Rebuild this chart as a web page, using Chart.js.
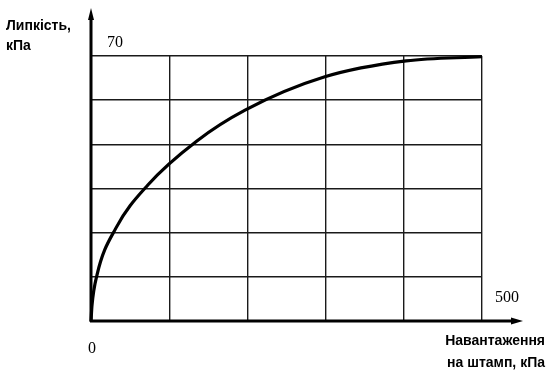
<!DOCTYPE html>
<html>
<head>
<meta charset="utf-8">
<script src="https://cdn.jsdelivr.net/npm/chart.js@4.4.1/dist/chart.umd.min.js"></script>
<style>
  html, body { margin: 0; padding: 0; background: #fff; }
  #wrap { width: 549px; height: 381px; }
</style>
</head>
<body>
<div id="wrap"><canvas id="chart" width="549" height="381"></canvas></div>
<script>
// load on the plate (kPa) and stickiness (kPa)
const loadKPa    = [0, 1.3, 7.7, 32, 73, 135, 197, 299, 403, 500];
const stickiness = [0, 4.2, 12.2, 24.6, 36.0, 47.5, 55.7, 64.5, 68.7, 69.8];

const xMax = 500;
const yMax = 70;
const xStep = 100;
const yStep = 70 / 6;

const yTitle = ['Липкість,', 'кПа'];
const xTitle = ['Навантаження', 'на штамп, кПа'];

// axes with arrows and the loose labels around the plot
const decorPlugin = {
    id: 'decor',
    afterDraw(chart) {
        const ctx = chart.ctx;
        const x = chart.scales.x, y = chart.scales.y;
        const x0 = x.getPixelForValue(0), y0 = y.getPixelForValue(0);
        const xEnd = x.getPixelForValue(xMax), yTop = y.getPixelForValue(yMax);

        ctx.save();
        ctx.strokeStyle = '#000';
        ctx.fillStyle = '#000';
        ctx.lineWidth = 3;
        ctx.lineCap = 'butt';

        // y axis
        ctx.beginPath();
        ctx.moveTo(x0, y0 + 1);
        ctx.lineTo(x0, yTop - 40);
        ctx.stroke();
        ctx.beginPath();
        ctx.moveTo(x0, yTop - 48);
        ctx.lineTo(x0 - 3, yTop - 36);
        ctx.lineTo(x0 + 3, yTop - 36);
        ctx.closePath();
        ctx.fill();

        // x axis
        ctx.beginPath();
        ctx.moveTo(x0 - 1, y0);
        ctx.lineTo(xEnd + 32, y0);
        ctx.stroke();
        ctx.beginPath();
        ctx.moveTo(xEnd + 41, y0);
        ctx.lineTo(xEnd + 29, y0 - 3.5);
        ctx.lineTo(xEnd + 29, y0 + 3.5);
        ctx.closePath();
        ctx.fill();

        // value labels
        ctx.font = '16px "Liberation Serif", "Times New Roman", serif';
        ctx.textBaseline = 'middle';
        ctx.textAlign = 'left';
        ctx.fillText(String(yMax), x0 + 16, yTop - 13);
        ctx.fillText(String(xMax), xEnd + 13, y0 - 23);
        ctx.fillText('0', x0 - 3, y0 + 28);

        // axis titles
        ctx.font = 'bold 14px "Liberation Sans", Arial, sans-serif';
        ctx.textAlign = 'left';
        ctx.fillText(yTitle[0], 6, 26);
        ctx.fillText(yTitle[1], 6, 46);
        ctx.textAlign = 'right';
        ctx.fillText(xTitle[0], 545, y0 + 20);
        ctx.fillText(xTitle[1], 545, y0 + 42);
        ctx.restore();
    }
};

new Chart(document.getElementById('chart'), {
    type: 'line',
    data: {
        datasets: [{
            data: loadKPa.map((v, i) => ({ x: v, y: stickiness[i] })),
            borderColor: '#000',
            borderWidth: 3.2,
            pointRadius: 0,
            fill: false,
            cubicInterpolationMode: 'monotone',
            clip: false
        }]
    },
    options: {
        responsive: false,
        animation: false,
        layout: { padding: { left: 91, right: 67, top: 56, bottom: 60 } },
        plugins: {
            legend: { display: false },
            tooltip: { enabled: false }
        },
        scales: {
            x: {
                type: 'linear',
                min: 0,
                max: xMax,
                ticks: { display: false, stepSize: xStep },
                grid: { color: '#1a1a1a', lineWidth: 1.4, drawTicks: false },
                border: { display: false }
            },
            y: {
                type: 'linear',
                min: 0,
                max: yMax,
                ticks: { display: false, stepSize: yStep },
                grid: { color: '#1a1a1a', lineWidth: 1.4, drawTicks: false },
                border: { display: false }
            }
        }
    },
    plugins: [decorPlugin]
});
</script>
</body>
</html>
